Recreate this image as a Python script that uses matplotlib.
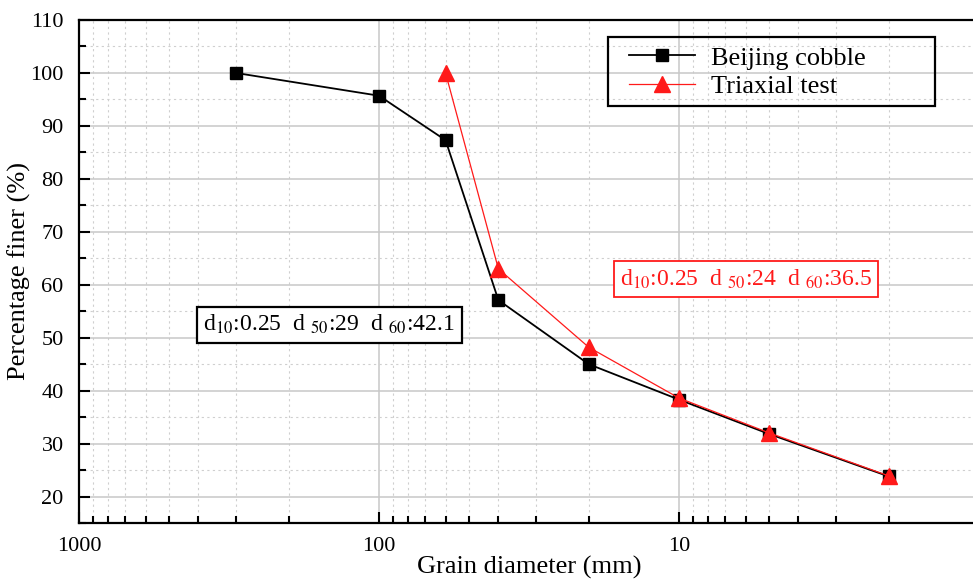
"""Grain size distribution: Beijing cobble vs triaxial test gradation."""

import matplotlib

matplotlib.use("Agg")
import matplotlib.pyplot as plt  # noqa: E402
from matplotlib.patches import Rectangle  # noqa: E402
from matplotlib.ticker import FixedLocator, LogLocator, MultipleLocator, NullFormatter  # noqa: E402

plt.rcParams["font.family"] = ["Liberation Serif", "DejaVu Serif"]
plt.rcParams["mathtext.fontset"] = "stix"

# grain diameter (mm) and percentage finer (%)
cobble_d = [300, 100, 60, 40, 20, 10, 5, 2]
cobble_pct = [100, 95.7, 87.3, 57.1, 45.0, 38.3, 31.8, 23.8]
triax_d = [60, 40, 20, 10, 5, 2]
triax_pct = [100, 63.0, 48.2, 38.6, 32.0, 23.9]
x_major = [1000, 100, 10]
x_major_labels = ["1000", "100", "10"]
cobble_note = r"d$_{10}$:0.25  d $_{50}$:29  d $_{60}$:42.1"
triax_note = r"d$_{10}$:0.25  d $_{50}$:24  d $_{60}$:36.5"

fig = plt.figure(figsize=(9.73, 5.84), dpi=100)
# right edge runs past the figure, as in the cropped original
ax = fig.add_axes([79 / 973, 61 / 584, 900 / 973, 503 / 584])

ax.plot(cobble_d, cobble_pct, color="black", lw=1.3, marker="s", ms=9,
        label="Beijing cobble", zorder=4)
ax.plot(triax_d, triax_pct, color="#ff1a1a", lw=0.9, marker="^", ms=11,
        label="Triaxial test", zorder=5)

ax.set_xscale("log")
ax.set_xlim(1000, 1)
ax.set_ylim(15, 110)

ax.xaxis.set_major_locator(FixedLocator(x_major))
ax.set_xticklabels(x_major_labels)
ax.xaxis.set_minor_locator(LogLocator(base=10, subs=range(2, 10)))
ax.xaxis.set_minor_formatter(NullFormatter())
ax.set_yticks(range(20, 111, 10))
ax.yaxis.set_minor_locator(MultipleLocator(5))

ax.tick_params(which="both", direction="in", top=False, right=False,
               labelsize=16, width=1.5)
ax.tick_params(which="major", length=8)
ax.tick_params(which="minor", length=5)
ax.tick_params(axis="x", pad=10)
ax.tick_params(axis="y", pad=11)
for sp in ax.spines.values():
    sp.set_linewidth(1.6)

ax.grid(True, which="major", color="#c8c8c8", lw=1.1, ls="-", zorder=0)
ax.grid(True, which="minor", color="#cfcfcf", lw=0.8, ls=(0, (2, 3)), zorder=0)
ax.set_axisbelow(True)

ax.set_xlabel("Grain diameter (mm)", fontsize=19, labelpad=0)
ax.set_ylabel("Percentage finer (%)", fontsize=19)
ax.yaxis.set_label_coords(-0.053, 0.5)

leg = ax.legend(loc="upper left", bbox_to_anchor=(0.611, 0.948), fontsize=19,
                handlelength=2.5, handletextpad=0.6, borderpad=0,
                borderaxespad=0, labelspacing=0.2, frameon=False)
# the original legend frame is wider than its entries
ax.add_patch(Rectangle((0.588, 0.829), 0.363, 0.137, transform=ax.transAxes,
                       fill=False, ec="black", lw=1.6, zorder=7))

ax.text(0.278, 0.394, cobble_note, transform=ax.transAxes, fontsize=17,
        ha="center", va="center", color="black", zorder=6,
        bbox=dict(boxstyle="square,pad=0.28", fc="white", ec="black", lw=1.6))
ax.text(0.741, 0.485, triax_note, transform=ax.transAxes, fontsize=17,
        ha="center", va="center", color="#ff1a1a", zorder=6,
        bbox=dict(boxstyle="square,pad=0.25", fc="white", ec="#ff1a1a", lw=1.3))

fig.savefig("out.png", dpi=100)
